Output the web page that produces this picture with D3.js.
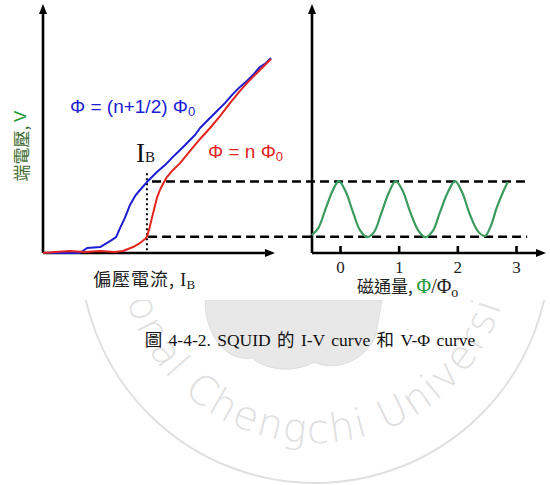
<!DOCTYPE html>
<html>
<head>
<meta charset="utf-8">
<script src="https://cdn.jsdelivr.net/npm/d3@7"></script>
<style>
body { margin: 0; background: #fff; }
svg { display: block; }
</style>
</head>
<body>
<div class="chart-container"></div>
<script>
// I-V curves: bias current and voltage, arbitrary units (0 - 100)
const blueCurrent = [0, 7.3, 15.9, 19.0, 24.6, 28.9, 31.5, 33.2, 35.3, 37.5, 39.7, 41.8, 44.8, 49.1, 52.6, 56.0, 59.1, 62.1, 65.5, 67.7, 71.1, 75.0, 78.4, 81.9, 84.9, 87.9, 90.9, 93.5, 96.1, 98.3];
const blueVoltage = [0, 0, 0, 2.0, 2.4, 4.8, 6.4, 10.0, 14.1, 19.3, 22.9, 25.3, 28.5, 32.5, 35.3, 38.6, 41.4, 44.2, 47.4, 50.2, 53.4, 57.0, 60.2, 63.9, 66.7, 69.1, 71.9, 74.7, 76.3, 78.3];

const redCurrent = [0, 5.2, 11.6, 18.1, 24.6, 31.0, 34.5, 38.8, 41.8, 44.0, 44.8, 45.9, 46.8, 47.8, 49.1, 50.4, 51.7, 53.4, 55.6, 59.1, 63.4, 67.7, 72.0, 76.3, 80.6, 84.9, 89.2, 93.5, 96.1, 98.3];
const redVoltage = [0, 0.4, 0.8, 0.4, 0.8, 0.4, 0.8, 2.4, 4.0, 5.6, 6.6, 10.0, 13.5, 17.3, 22.1, 25.3, 27.7, 30.5, 32.9, 36.1, 41.0, 45.8, 50.2, 55.0, 60.2, 65.1, 69.5, 73.5, 75.9, 77.9];

// V-Phi curve: flux in units of Phi0, voltage in same units as above
const fluxValues = [-0.48, -0.37, -0.24, -0.12, -0.02, 0.10, 0.22, 0.34, 0.46, 0.58, 0.70, 0.83, 0.95, 1.07, 1.19, 1.33, 1.45, 1.58, 1.70, 1.84, 1.96, 2.08, 2.21, 2.35, 2.47, 2.57, 2.67, 2.78, 2.86];
const fluxVoltage = [7.2, 10.0, 18.1, 25.3, 28.9, 24.5, 16.5, 9.2, 6.4, 8.4, 15.7, 24.1, 28.9, 24.9, 16.9, 9.2, 6.4, 8.8, 16.1, 24.5, 28.9, 24.5, 15.7, 8.8, 6.8, 10.8, 18.1, 24.5, 28.5];

const fluxTicks = [0, 1, 2, 3];

// working point and voltage swing
const biasCurrent = 44.8;
const upperLevel = 28.7;
const lowerLevel = 6.5;

const blueLabel = 'Φ = (n+1/2) Φ';
const redLabel = 'Φ = n Φ';
const captionText = '圖 4-4-2. SQUID 的 I-V curve 和 V-Φ curve';

const blueColor = '#1c1cd4';
const redColor = '#e3231e';
const greenLine = '#3b9a5e';
const greenText = '#1f9a36';

const cjk = "'Noto Sans CJK TC', 'Noto Sans CJK SC', sans-serif";
const serif = "'Liberation Serif', 'Times New Roman', serif";
const sans = "'Liberation Sans', Arial, sans-serif";

function ready() {
    const W = 550, H = 485;

    // panel frames
    const left = { x0: 43, x1: 275 };
    const right = { x0: 312, x1: 546 };
    const yBottom = 253, yTop = 4;

    // scales
    const xCurrent = d3.scaleLinear().domain([0, 100]).range([left.x0, left.x1]);
    const yVoltage = d3.scaleLinear().domain([0, 100]).range([yBottom, yTop]);
    const xFlux = d3.scaleLinear().domain([0, 3]).range([340, 516]);

    const svg = d3.select('.chart-container')
        .append('svg')
        .attr('width', W)
        .attr('height', H)
        .style('font-family', sans);

    const defs = svg.append('defs');

    defs.append('marker')
        .attr('id', 'arrow')
        .attr('markerUnits', 'userSpaceOnUse')
        .attr('viewBox', '0 -5 10 10')
        .attr('markerWidth', 10)
        .attr('markerHeight', 10)
        .attr('refX', 2)
        .attr('refY', 0)
        .attr('orient', 'auto')
        .append('path')
        .attr('d', 'M0,-4L10,0L0,4Z')
        .attr('fill', '#000');

    defs.append('clipPath')
        .attr('id', 'page-clip')
        .append('rect')
        .attr('x', 0)
        .attr('y', 300)
        .attr('width', W)
        .attr('height', H - 300);

    // watermark seal (page behind the figure)
    const seal = { cx: 315, cy: 248, r: 235, rText: 195 };
    const mark = svg.append('g')
        .attr('class', 'watermark')
        .attr('clip-path', 'url(#page-clip)');

    mark.append('path')
        .attr('d', 'M205,300 C205,330 222,362 252,358 C268,372 298,372 314,362 C334,372 366,362 376,334 L382,300 Z')
        .attr('fill', '#e8e8e8')
        .attr('stroke', '#dddddd');

    mark.append('circle')
        .attr('cx', seal.cx)
        .attr('cy', seal.cy)
        .attr('r', seal.r)
        .attr('fill', 'none')
        .attr('stroke', '#e0e0e0')
        .attr('stroke-width', 2);

    defs.append('path')
        .attr('id', 'seal-arc')
        .attr('d', `M${seal.cx - seal.rText},${seal.cy} A${seal.rText},${seal.rText} 0 0 0 ${seal.cx + seal.rText},${seal.cy}`);

    mark.append('text')
        .attr('font-family', "'DejaVu Sans', sans-serif")
        .attr('font-weight', 200)
        .attr('font-size', 40)
        .attr('letter-spacing', 2)
        .attr('fill', '#e0e0e0')
        .append('textPath')
        .attr('href', '#seal-arc')
        .attr('startOffset', '46%')
        .attr('text-anchor', 'middle')
        .text('National Chengchi University');

    // axes with arrows
    const axes = svg.append('g').attr('class', 'axes')
        .attr('stroke', '#000')
        .attr('stroke-width', 2.6);

    [left, right].forEach(p => {
        axes.append('line')
            .attr('x1', p.x0).attr('y1', yBottom)
            .attr('x2', p.x1 - 8).attr('y2', yBottom)
            .attr('marker-end', 'url(#arrow)');
        axes.append('line')
            .attr('x1', p.x0).attr('y1', yBottom)
            .attr('x2', p.x0).attr('y2', yTop + 8)
            .attr('marker-end', 'url(#arrow)');
    });

    // flux axis ticks
    const xAxis = d3.axisBottom(xFlux)
        .tickValues(fluxTicks)
        .tickFormat(d3.format('d'))
        .tickSizeInner(-7)
        .tickSizeOuter(0)
        .tickPadding(8);

    const xAxisDraw = svg.append('g')
        .attr('class', 'x axis')
        .attr('transform', `translate(0, ${yBottom})`)
        .call(xAxis);

    xAxisDraw.select('.domain').remove();
    xAxisDraw.selectAll('.tick line').attr('stroke', '#000').attr('stroke-width', 2.6);
    xAxisDraw.selectAll('.tick text')
        .attr('font-family', serif)
        .attr('font-size', 17)
        .attr('fill', '#222');

    // reference levels
    const guides = svg.append('g').attr('class', 'guides')
        .attr('stroke', '#000')
        .attr('fill', 'none');

    guides.append('line')
        .attr('x1', xCurrent(47)).attr('x2', xFlux(3.24))
        .attr('y1', yVoltage(upperLevel)).attr('y2', yVoltage(upperLevel))
        .attr('stroke-width', 2.6)
        .attr('stroke-dasharray', '9,5');

    guides.append('line')
        .attr('x1', xCurrent(45.3)).attr('x2', xFlux(3.19))
        .attr('y1', yVoltage(lowerLevel)).attr('y2', yVoltage(lowerLevel))
        .attr('stroke-width', 2.6)
        .attr('stroke-dasharray', '9,5');

    guides.append('line')
        .attr('x1', xCurrent(biasCurrent)).attr('x2', xCurrent(biasCurrent))
        .attr('y1', yVoltage(32)).attr('y2', yVoltage(0))
        .attr('stroke-width', 2)
        .attr('stroke-dasharray', '2,3');

    // I-V lines
    const ivSeries = [
        { name: 'half', color: blueColor, values: blueCurrent.map((c, i) => ({ x: c, y: blueVoltage[i] })) },
        { name: 'integer', color: redColor, values: redCurrent.map((c, i) => ({ x: c, y: redVoltage[i] })) }
    ];

    const ivLine = d3.line()
        .x(d => xCurrent(d.x))
        .y(d => yVoltage(d.y));

    svg.append('g')
        .attr('class', 'iv-lines')
        .selectAll('path')
        .data(ivSeries)
        .enter()
            .append('path')
            .attr('d', d => ivLine(d.values))
            .attr('fill', 'none')
            .attr('stroke', d => d.color)
            .attr('stroke-width', 2)
            .attr('stroke-linejoin', 'round');

    // V-Phi line
    const vPhiLine = d3.line()
        .x(d => xFlux(d.x))
        .y(d => yVoltage(d.y))
        .curve(d3.curveCatmullRom);

    svg.append('path')
        .attr('class', 'vphi-line')
        .attr('d', vPhiLine(fluxValues.map((f, i) => ({ x: f, y: fluxVoltage[i] }))))
        .attr('fill', 'none')
        .attr('stroke', greenLine)
        .attr('stroke-width', 2.2);

    // series labels
    const bl = svg.append('text')
        .attr('x', 70).attr('y', 113)
        .attr('font-size', 19)
        .attr('fill', blueColor);
    bl.append('tspan').text(blueLabel);
    bl.append('tspan').text('0').attr('font-size', 13).attr('dy', 3);

    const rl = svg.append('text')
        .attr('x', 208).attr('y', 158)
        .attr('font-size', 19)
        .attr('fill', redColor);
    rl.append('tspan').text(redLabel);
    rl.append('tspan').text('0').attr('font-size', 13).attr('dy', 3);

    // I_B label
    const ib = svg.append('text')
        .attr('x', 136).attr('y', 162)
        .attr('font-family', serif)
        .attr('font-size', 27)
        .attr('fill', '#111');
    ib.append('tspan').text('I');
    ib.append('tspan').text('B').attr('font-size', 15);

    // axis titles
    const xl = svg.append('text')
        .attr('x', 93).attr('y', 286)
        .attr('font-size', 18)
        .attr('fill', '#222');
    xl.append('tspan').attr('font-family', cjk).attr('letter-spacing', 1).text('偏壓電流, ');
    xl.append('tspan').attr('font-family', serif).attr('font-size', 19).text('I');
    xl.append('tspan').attr('font-family', serif).attr('font-size', 13).attr('dy', 3).text('B');

    const xr = svg.append('text')
        .attr('x', 357).attr('y', 293)
        .attr('font-size', 17)
        .attr('fill', '#222');
    xr.append('tspan').attr('font-family', cjk).text('磁通量, ');
    xr.append('tspan').attr('font-family', serif).attr('font-size', 20).attr('fill', greenText).text('Φ');
    xr.append('tspan').attr('font-family', serif).attr('font-size', 20).text('/Φ');
    xr.append('tspan').attr('font-family', serif).attr('font-size', 14).attr('dy', 4).text('o');

    const yl = svg.append('text')
        .attr('transform', 'translate(20, 146) rotate(-90)')
        .attr('text-anchor', 'middle')
        .attr('dominant-baseline', 'central')
        .attr('font-size', 17);
    yl.append('tspan').attr('font-family', cjk).attr('fill', '#3d6b30').text('端電壓, ');
    yl.append('tspan').attr('font-family', sans).attr('fill', greenText).text('V');

    // caption
    svg.append('text')
        .attr('x', 310).attr('y', 346)
        .attr('text-anchor', 'middle')
        .attr('font-family', serif + ", 'Noto Sans CJK TC'")
        .attr('font-size', 17.5)
        .attr('word-spacing', 2)
        .attr('fill', '#111')
        .text(captionText);
}

ready();
</script>
</body>
</html>
